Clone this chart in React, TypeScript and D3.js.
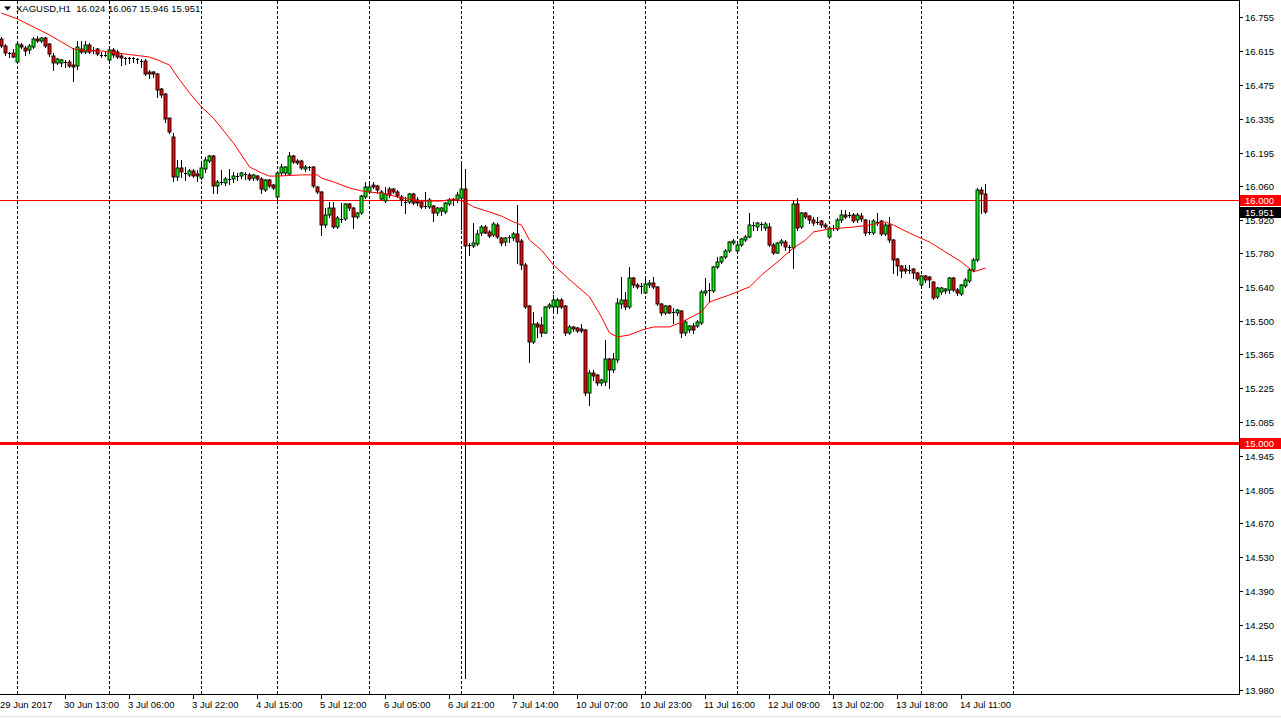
import React from "react";
import * as d3 from "d3";

// ---- data (XAGUSD H1) ----
const opens = [16.664,16.635,16.606,16.606,16.569,16.639,16.627,16.619,16.631,16.664,16.656,16.668,16.643,16.594,16.565,16.565,16.569,16.569,16.557,16.553,16.623,16.611,16.639,16.619,16.623,16.598,16.598,16.578,16.619,16.611,16.594,16.586,16.582,16.586,16.582,16.573,16.573,16.528,16.528,16.520,16.458,16.437,16.338,16.260,16.095,16.132,16.112,16.103,16.120,16.108,16.091,16.128,16.161,16.182,16.058,16.070,16.070,16.087,16.087,16.099,16.099,16.108,16.103,16.091,16.099,16.087,16.042,16.083,16.062,16.013,16.112,16.112,16.108,16.182,16.161,16.161,16.128,16.136,16.136,16.054,16.033,15.897,15.938,15.967,15.889,15.922,15.922,15.984,15.967,15.930,15.947,16.013,16.033,16.062,16.058,16.004,15.996,16.046,16.046,16.033,16.013,15.992,15.992,16.025,16.000,15.992,15.976,15.971,15.976,15.947,15.955,15.951,15.984,16.000,16.000,16.009,16.046,15.811,15.811,15.819,15.864,15.889,15.868,15.856,15.897,15.844,15.827,15.848,15.844,15.860,15.831,15.732,15.563,15.415,15.489,15.485,15.452,15.559,15.559,15.559,15.588,15.563,15.452,15.477,15.473,15.468,15.464,15.205,15.287,15.279,15.246,15.250,15.345,15.299,15.341,15.571,15.588,15.559,15.679,15.650,15.646,15.617,15.650,15.658,15.642,15.571,15.534,15.563,15.538,15.534,15.543,15.452,15.464,15.481,15.481,15.493,15.617,15.629,15.625,15.724,15.745,15.765,15.790,15.823,15.790,15.815,15.835,15.848,15.897,15.889,15.901,15.885,15.889,15.815,15.782,15.823,15.827,15.806,15.802,15.984,15.889,15.947,15.934,15.918,15.910,15.914,15.897,15.848,15.881,15.881,15.918,15.938,15.938,15.938,15.918,15.934,15.918,15.868,15.864,15.910,15.914,15.860,15.897,15.835,15.757,15.728,15.716,15.712,15.716,15.699,15.650,15.687,15.683,15.662,15.600,15.621,15.625,15.629,15.679,15.629,15.613,15.646,15.666,15.712,15.753,16.042,16.024];
const highs = [16.672,16.643,16.611,16.623,16.648,16.648,16.635,16.643,16.672,16.676,16.672,16.672,16.648,16.606,16.586,16.582,16.578,16.578,16.627,16.656,16.656,16.656,16.648,16.631,16.627,16.611,16.611,16.623,16.627,16.619,16.606,16.590,16.590,16.590,16.586,16.582,16.582,16.536,16.532,16.524,16.462,16.441,16.340,16.277,16.165,16.165,16.136,16.128,16.128,16.124,16.153,16.178,16.186,16.186,16.083,16.124,16.095,16.128,16.116,16.112,16.116,16.116,16.112,16.108,16.103,16.095,16.087,16.087,16.066,16.116,16.149,16.141,16.198,16.186,16.169,16.165,16.145,16.141,16.141,16.058,16.037,15.967,15.992,15.992,15.934,15.988,15.988,15.988,15.971,15.951,16.021,16.075,16.075,16.075,16.062,16.042,16.054,16.054,16.050,16.042,16.021,16.013,16.029,16.029,16.013,16.000,16.033,16.009,15.980,15.971,15.971,15.992,16.009,16.009,16.033,16.157,16.128,15.823,15.905,15.877,15.897,15.897,15.877,15.910,15.905,15.848,15.848,15.856,15.868,15.980,15.839,15.740,15.567,15.538,15.497,15.518,15.563,15.576,15.609,15.596,15.596,15.567,15.485,15.481,15.477,15.489,15.468,15.299,15.299,15.283,15.262,15.423,15.349,15.370,15.596,15.683,15.621,15.724,15.683,15.658,15.658,15.679,15.671,15.683,15.646,15.576,15.567,15.567,15.555,15.551,15.547,15.506,15.485,15.493,15.506,15.629,15.679,15.658,15.728,15.765,15.769,15.798,15.831,15.839,15.823,15.844,15.856,15.947,15.910,15.910,15.910,15.910,15.905,15.823,15.827,15.839,15.835,15.815,16.000,16.009,15.951,15.951,15.938,15.930,15.930,15.918,15.905,15.889,15.897,15.926,15.959,15.959,15.951,15.947,15.947,15.947,15.922,15.918,15.922,15.947,15.918,15.905,15.930,15.839,15.761,15.732,15.732,15.732,15.720,15.703,15.691,15.691,15.687,15.666,15.642,15.642,15.637,15.683,15.683,15.637,15.654,15.679,15.720,15.761,16.050,16.054,16.067];
const lows = [16.631,16.598,16.590,16.590,16.565,16.627,16.598,16.606,16.627,16.652,16.652,16.631,16.594,16.536,16.561,16.553,16.549,16.549,16.491,16.540,16.606,16.606,16.606,16.606,16.598,16.590,16.594,16.576,16.590,16.586,16.557,16.561,16.565,16.569,16.565,16.549,16.516,16.503,16.507,16.425,16.425,16.322,16.277,16.079,16.083,16.095,16.083,16.099,16.095,16.079,16.087,16.116,16.157,16.029,16.029,16.066,16.062,16.066,16.075,16.083,16.091,16.087,16.083,16.083,16.083,16.029,16.037,16.054,16.046,16.000,16.103,16.103,16.103,16.153,16.149,16.128,16.120,16.124,16.054,16.029,15.856,15.889,15.930,15.885,15.885,15.910,15.918,15.959,15.885,15.926,15.943,16.009,16.029,16.050,16.029,16.000,15.992,16.013,16.029,16.013,15.980,15.947,15.988,15.984,15.980,15.967,15.967,15.967,15.914,15.938,15.938,15.947,15.980,15.980,15.992,15.881,14.030,15.773,15.806,15.815,15.856,15.864,15.848,15.852,15.844,15.815,15.815,15.827,15.835,15.740,15.716,15.555,15.332,15.411,15.436,15.440,15.450,15.555,15.534,15.534,15.555,15.444,15.448,15.460,15.456,15.456,15.196,15.155,15.258,15.238,15.238,15.238,15.225,15.291,15.332,15.555,15.551,15.555,15.642,15.637,15.617,15.615,15.642,15.637,15.567,15.526,15.530,15.534,15.493,15.526,15.436,15.444,15.456,15.452,15.477,15.491,15.609,15.580,15.621,15.720,15.740,15.761,15.786,15.821,15.786,15.811,15.831,15.846,15.877,15.877,15.877,15.877,15.811,15.778,15.780,15.815,15.794,15.786,15.720,15.877,15.885,15.926,15.905,15.897,15.901,15.889,15.885,15.844,15.877,15.877,15.910,15.926,15.930,15.910,15.910,15.914,15.856,15.860,15.860,15.897,15.856,15.856,15.827,15.699,15.691,15.683,15.699,15.699,15.679,15.671,15.646,15.662,15.642,15.592,15.596,15.613,15.617,15.617,15.625,15.609,15.609,15.642,15.662,15.707,15.749,15.947,15.946];
const closes = [16.635,16.606,16.604,16.590,16.643,16.631,16.615,16.635,16.664,16.658,16.668,16.635,16.602,16.565,16.582,16.578,16.565,16.553,16.549,16.631,16.611,16.639,16.611,16.615,16.602,16.594,16.596,16.619,16.598,16.590,16.586,16.582,16.586,16.582,16.578,16.569,16.520,16.520,16.520,16.454,16.433,16.334,16.281,16.095,16.132,16.116,16.108,16.120,16.099,16.099,16.132,16.165,16.182,16.058,16.075,16.075,16.087,16.085,16.099,16.097,16.112,16.103,16.087,16.103,16.087,16.046,16.083,16.058,16.050,16.112,16.136,16.136,16.182,16.157,16.153,16.132,16.136,16.132,16.058,16.033,15.897,15.938,15.967,15.889,15.926,15.924,15.984,15.967,15.930,15.947,16.017,16.054,16.054,16.054,16.042,16.033,16.025,16.021,16.033,16.017,16.000,15.988,16.025,15.988,15.988,15.971,15.971,16.000,15.947,15.967,15.967,15.988,16.000,16.004,16.021,16.046,15.811,15.815,15.823,15.860,15.889,15.864,15.852,15.901,15.848,15.823,15.844,15.844,15.860,15.827,15.732,15.559,15.415,15.489,15.477,15.452,15.559,15.567,15.588,15.588,15.559,15.452,15.477,15.468,15.460,15.460,15.205,15.287,15.275,15.246,15.258,15.345,15.299,15.345,15.576,15.588,15.559,15.679,15.650,15.642,15.642,15.654,15.658,15.642,15.571,15.534,15.563,15.534,15.534,15.547,15.452,15.497,15.481,15.464,15.497,15.621,15.625,15.625,15.724,15.745,15.765,15.790,15.827,15.831,15.815,15.839,15.848,15.897,15.893,15.905,15.897,15.901,15.815,15.782,15.823,15.831,15.806,15.802,15.984,15.885,15.947,15.930,15.918,15.905,15.905,15.897,15.889,15.885,15.885,15.918,15.938,15.930,15.934,15.914,15.938,15.922,15.864,15.864,15.914,15.905,15.860,15.897,15.835,15.753,15.728,15.707,15.707,15.709,15.699,15.674,15.687,15.671,15.671,15.596,15.637,15.637,15.633,15.679,15.629,15.617,15.650,15.671,15.712,15.753,16.042,16.025,15.951];

// moving average (read at selected bars)
const maBars = [0,4,8,12,15,18,22,25,29,33,37,39,42,44,47,50,53,58,62,65,67,69,75,79,80,83,87,90,92,95,100,105,110,113,116,118,122,125,128,130,132,135,138,143,147,150,152,154,157,160,163,167,170,175,177,182,187,190,194,198,201,203,207,210,213,217,221,223,227,232,236,240,243,246];
const maValues = [16.771,16.747,16.714,16.681,16.652,16.623,16.615,16.615,16.606,16.598,16.590,16.578,16.557,16.508,16.442,16.384,16.338,16.235,16.137,16.112,16.099,16.099,16.104,16.104,16.091,16.075,16.050,16.038,16.033,16.029,16.009,15.996,15.996,16.005,15.992,15.972,15.951,15.934,15.910,15.897,15.835,15.794,15.732,15.658,15.601,15.518,15.452,15.436,15.444,15.464,15.477,15.477,15.497,15.539,15.580,15.609,15.642,15.691,15.745,15.803,15.835,15.869,15.881,15.885,15.889,15.897,15.910,15.897,15.864,15.827,15.786,15.745,15.704,15.720];

const priceTicks = [16.755,16.615,16.475,16.335,16.195,16.060,15.920,15.780,15.640,15.500,15.365,15.225,15.085,14.945,14.805,14.670,14.530,14.390,14.250,14.115,13.980];
const timeLabels = ["29 Jun 2017","30 Jun 13:00","3 Jul 06:00","3 Jul 22:00","4 Jul 15:00","5 Jul 12:00","6 Jul 05:00","6 Jul 21:00","7 Jul 14:00","10 Jul 07:00","10 Jul 23:00","11 Jul 16:00","12 Jul 09:00","13 Jul 02:00","13 Jul 18:00","14 Jul 11:00"];
const timeBars = [0,16,32,48,64,80,96,112,128,144,160,176,192,208,224,240];
const daySeparatorBars = [4,27,50,69,92,115,138,161,184,207,230,253];

const symbol = "XAGUSD,H1";
const lineLevels = [16.0, 15.0];
const lastPrice = 15.951;

const W = 1281, H = 718;
const PLOT_R = 1239;
const PLOT_B = 694;
const FONT = "'Liberation Sans', Arial, sans-serif";

export default function App() {
  const x = d3.scaleLinear().domain([0, 1]).range([1, 5]);
  const y = d3.scaleLinear().domain([13.98, 16.755]).range([690, 17]);
  const px = (i: number) => Math.round(x(i));
  const fmt = d3.format(".3f");

  const maLine = d3
    .line<number>()
    .x((_, k) => x(maBars[k]) + 0.5)
    .y((v) => y(v))(maValues) as string;

  const candles = opens.map((o, i) => {
    const c = closes[i];
    const hi = highs[i];
    const lo = lows[i];
    const xc = px(i) + 0.5;
    const top = Math.round(y(Math.max(o, c)));
    const bot = Math.round(y(Math.min(o, c)));
    const bull = c >= o;
    return (
      <g key={i}>
        <line x1={xc} x2={xc} y1={Math.round(y(hi))} y2={Math.round(y(lo)) + 1} stroke="#000" strokeWidth={1} shapeRendering="crispEdges" />
        {bot - top >= 2 ? (
          <rect x={xc - 1.5} y={top} width={3} height={bot - top} fill={bull ? "#00ff00" : "#ff0000"} stroke="#000" strokeWidth={0.9} />
        ) : (
          <rect x={xc - 1.5} y={top - 0.5} width={3} height={1.5} fill="#000" shapeRendering="crispEdges" />
        )}
      </g>
    );
  });

  const yL16 = Math.round(y(lineLevels[0])) + 0.5;
  const yL15 = Math.round(y(lineLevels[1])) + 0.5;
  const yLast = Math.round(y(lastPrice)) + 0.5;

  return (
    <svg
      width={W}
      height={H}
      style={{ position: "absolute", left: 0, top: 0, background: "#fff", fontFamily: FONT }}
    >
      <rect x={0} y={0} width={W} height={H} fill="#fff" />
      <defs>
        <clipPath id="plot">
          <rect x={0} y={0} width={PLOT_R} height={PLOT_B} />
        </clipPath>
      </defs>

      {/* day separators */}
      <g shapeRendering="crispEdges">
        {daySeparatorBars.map((b) => (
          <line key={b} x1={px(b) + 0.5} x2={px(b) + 0.5} y1={1} y2={PLOT_B} stroke="#000" strokeDasharray="3,2" strokeWidth={1} />
        ))}
      </g>

      <g clipPath="url(#plot)">
        {/* horizontal levels */}
        <line x1={0} x2={PLOT_R} y1={yL16} y2={yL16} stroke="#ff0000" strokeWidth={1} shapeRendering="crispEdges" />
        <line x1={0} x2={PLOT_R} y1={yL15} y2={yL15} stroke="#ff0000" strokeWidth={3} shapeRendering="crispEdges" />
        {candles}
        <path d={maLine} fill="none" stroke="#ff0000" strokeWidth={1} />
      </g>

      {/* frame */}
      <g shapeRendering="crispEdges">
        <line x1={0} x2={PLOT_R + 0.5} y1={0.5} y2={0.5} stroke="#000" />
        <line x1={PLOT_R + 0.5} x2={PLOT_R + 0.5} y1={0} y2={PLOT_B + 1} stroke="#000" />
        <line x1={0} x2={PLOT_R + 0.5} y1={PLOT_B + 0.5} y2={PLOT_B + 0.5} stroke="#000" />
        <line x1={0} x2={W} y1={716.5} y2={716.5} stroke="#e4e4e4" />
      </g>

      {/* header */}
      <path d="M4,6.5 L11,6.5 L7.5,10.5 Z" fill="#000" />
      <text x={16} y={12} fontSize={9.5} fill="#000" style={{ whiteSpace: "pre" }}>
        {`${symbol}  ${fmt(opens[246])} ${fmt(highs[246])} ${fmt(lows[246])} ${fmt(closes[246])}`}
      </text>

      {/* price axis */}
      {priceTicks.map((p) => {
        const yy = Math.round(y(p)) + 0.5;
        return (
          <g key={p}>
            <line x1={PLOT_R} x2={PLOT_R + 4} y1={yy} y2={yy} stroke="#000" shapeRendering="crispEdges" />
            <text x={1245} y={yy} dy="0.35em" fontSize={9.5} fill="#000">
              {fmt(p)}
            </text>
          </g>
        );
      })}

      {/* level labels */}
      <g shapeRendering="crispEdges">
        <rect x={1240} y={yL16 - 5.5} width={41} height={11} fill="#ff0000" />
        <rect x={1240} y={yLast - 5.5} width={41} height={11} fill="#000" />
        <rect x={1240} y={yL15 - 5.5} width={41} height={11} fill="#ff0000" />
      </g>
      <text x={1245} y={yL16} dy="0.35em" fontSize={9.5} fill="#fff">{fmt(lineLevels[0])}</text>
      <text x={1245} y={yLast} dy="0.35em" fontSize={9.5} fill="#fff">{fmt(lastPrice)}</text>
      <text x={1245} y={yL15} dy="0.35em" fontSize={9.5} fill="#fff">{fmt(lineLevels[1])}</text>

      {/* time axis */}
      {timeBars.map((b, k) => (
        <g key={b}>
          {k > 0 && <line x1={px(b) + 0.5} x2={px(b) + 0.5} y1={PLOT_B + 1} y2={PLOT_B + 5} stroke="#000" shapeRendering="crispEdges" />}
          <text x={k === 0 ? 0 : px(b) - 1} y={708} fontSize={9.5} fill="#000">
            {timeLabels[k]}
          </text>
        </g>
      ))}
    </svg>
  );
}
